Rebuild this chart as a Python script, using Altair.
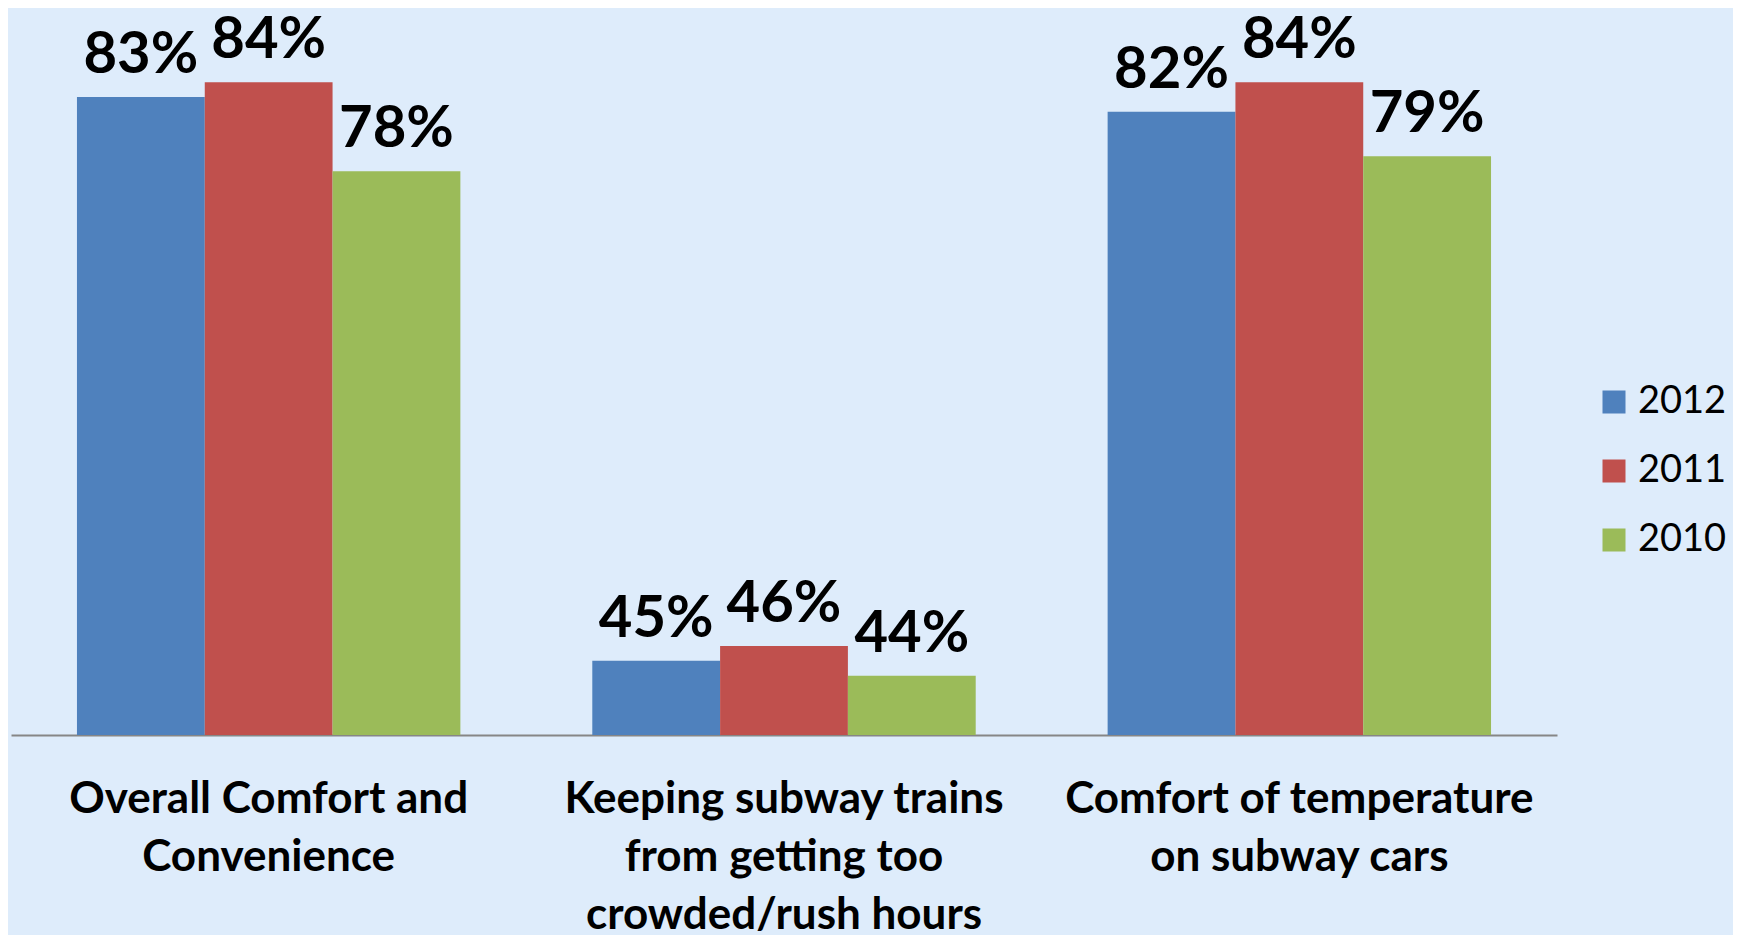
import altair as alt
import pandas as pd

categories = [
    "Overall Comfort and|Convenience",
    "Keeping subway trains|from getting too|crowded/rush hours",
    "Comfort of temperature|on subway cars",
]
years = ["2012", "2011", "2010"]
values_2012 = [83, 45, 82]
values_2011 = [84, 46, 84]
values_2010 = [78, 44, 79]
colors = ["#4f81bd", "#c0504d", "#9bbb59"]

rows = []
for yr, vals in zip(years, [values_2012, values_2011, values_2010]):
    for cat, v in zip(categories, vals):
        rows.append({"category": cat, "year": yr, "value": v, "label": f"{v}%"})
df = pd.DataFrame(rows)

FONT = "Lato"

x = alt.X("category:N", sort=categories, title=None,
          scale=alt.Scale(paddingInner=0.256, paddingOuter=0.128),
          axis=alt.Axis(labelAngle=0, labelExpr="split(datum.label, '|')",
                        labelFont=FONT, labelFontWeight="bold", labelFontSize=44,
                        labelColor="black", labelLineHeight=58, labelPadding=42,
                        labelBaseline="top", ticks=False, domainColor="#868686",
                        domainWidth=2, grid=False, labelLimit=0))
xoff = alt.XOffset("year:N", sort=years, scale=alt.Scale(paddingInner=0, paddingOuter=0))
y = alt.Y("value:Q", scale=alt.Scale(domain=[40, 89], nice=False, zero=False, clamp=True),
          axis=None)

bars = alt.Chart(df).mark_bar(clip=True).encode(
    x=x, xOffset=xoff, y=y, y2=alt.datum(40),
    color=alt.Color("year:N", sort=years,
                    scale=alt.Scale(domain=years, range=colors),
                    legend=alt.Legend(title=None, orient="none", legendX=1584, legendY=375,
                                      symbolType="square", symbolSize=529,
                                      symbolStrokeWidth=0, labelFont=FONT,
                                      labelFontSize=38, labelColor="black",
                                      rowPadding=31, labelOffset=5, padding=0)),
)

labels = alt.Chart(df).mark_text(font=FONT, fontWeight="bold", fontSize=58,
                                 baseline="alphabetic", dy=-24, color="black").encode(
    x=x, xOffset=xoff, y=y, text="label:N",
)

chart = (bars + labels).properties(
    width=1546, height=727, background="#deecfb",
    autosize=alt.AutoSizeParams(type="none"),
    padding={"left": 3, "top": 0, "right": 176, "bottom": 200},
).configure_view(stroke=None)

chart.save("out.html", embed_options={"renderer": "svg", "actions": False})
